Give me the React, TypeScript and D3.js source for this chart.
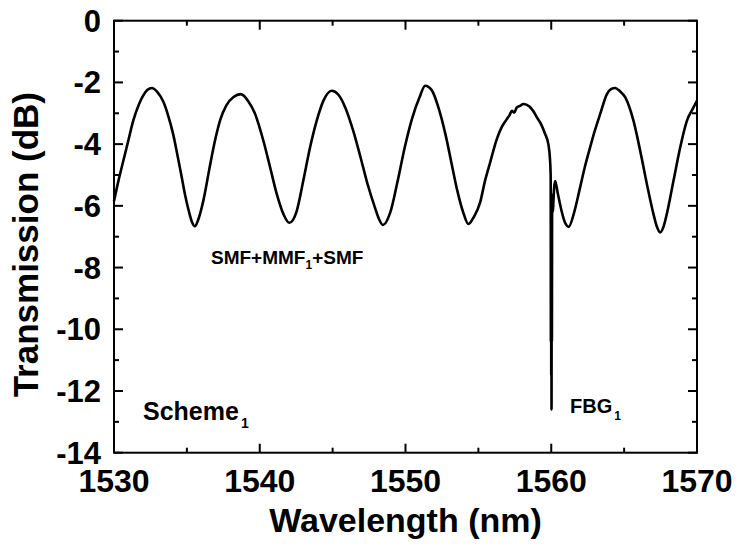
import React from "react";
import * as d3 from "d3";

const wavelength: number[] = [
  1530.0, 1530.3, 1530.64, 1531.0, 1531.32, 1531.7, 1532.01, 1532.3, 1532.6, 1532.95,
  1533.38, 1533.7, 1534.07, 1534.35, 1534.65, 1534.9, 1535.15, 1535.35, 1535.55, 1535.8,
  1536.13, 1536.54, 1536.9, 1537.3, 1537.7, 1538.2, 1538.7, 1539.2, 1539.68, 1540.25,
  1540.71, 1541.17, 1541.62, 1542.03, 1542.54, 1542.99, 1543.45, 1543.91, 1544.37, 1544.94,
  1545.4, 1545.9, 1546.4, 1546.9, 1547.4, 1547.9, 1548.2, 1548.45, 1548.95, 1549.45,
  1549.95, 1550.45, 1550.95, 1551.35, 1551.8, 1552.25, 1552.75, 1553.15, 1553.55, 1553.95,
  1554.32, 1554.7, 1555.12, 1555.45, 1555.81, 1556.27, 1556.6, 1556.95, 1557.15, 1557.3,
  1557.45, 1557.64, 1557.85, 1558.1, 1558.5, 1558.75, 1559.01, 1559.3, 1559.58, 1559.8,
  1559.9, 1559.96, 1559.975, 1559.99, 1560.0, 1560.01, 1560.02, 1560.03, 1560.045, 1560.06,
  1560.1, 1560.2, 1560.27, 1560.45,
  1560.7, 1560.95, 1561.2, 1561.55, 1561.98, 1562.3, 1562.67, 1563.0, 1563.36, 1563.82,
  1564.1, 1564.39, 1564.7, 1565.07, 1565.64, 1566.1, 1566.56, 1567.01, 1567.25, 1567.47,
  1567.7, 1567.93, 1568.39, 1568.85, 1569.31, 1569.76, 1570.0,
];

const transmission: number[] = [
  -5.85, -5.2, -4.54, -3.85, -3.24, -2.72, -2.42, -2.24, -2.18, -2.3,
  -2.62, -3.05, -3.7, -4.35, -5.08, -5.7, -6.2, -6.52, -6.66, -6.42,
  -5.83, -4.81, -3.95, -3.2, -2.75, -2.47, -2.38, -2.6, -3.02, -3.89,
  -4.75, -5.62, -6.26, -6.55, -6.16, -5.18, -4.11, -3.24, -2.59, -2.27,
  -2.4, -2.85, -3.55, -4.4, -5.3, -6.05, -6.45, -6.62, -6.22, -5.22,
  -4.1, -3.17, -2.5, -2.11, -2.25, -2.8, -3.7, -4.6, -5.5, -6.2,
  -6.59, -6.35, -5.89, -5.2, -4.59, -3.83, -3.45, -3.19, -3.05, -2.92,
  -2.98, -2.81, -2.76, -2.7, -2.78, -2.92, -3.13, -3.35, -3.67, -4.0,
  -4.4, -5.0, -10.4, -5.6, -11.5, -7.0, -12.6, -8.8, -10.4, -6.0,
  -6.2, -5.4, -5.2, -5.6,
  -6.15, -6.55, -6.68, -6.25, -5.4, -4.75, -4.1, -3.55, -3.02, -2.38,
  -2.22, -2.18, -2.28, -2.48, -3.24, -4.21, -5.29, -6.26, -6.68, -6.86,
  -6.68, -6.26, -5.18, -4.1, -3.24, -2.81, -2.59,
];

const xMajorTicks: number[] = [1530, 1540, 1550, 1560, 1570];
const xMinorTicks: number[] = [1535, 1545, 1555, 1565];
const yMajorTicks: number[] = [0, -2, -4, -6, -8, -10, -12, -14];
const yMinorTicks: number[] = [-1, -3, -5, -7, -9, -11, -13];

const xTitle = "Wavelength (nm)";
const yTitle = "Transmission (dB)";

const W = 740;
const H = 559;
const left = 114;
const right = 697;
const top = 20.7;
const bottom = 452.7;
const FONT = "'Liberation Sans', Arial, Helvetica, sans-serif";

export default function App() {
  const x = d3.scaleLinear().domain([1530, 1570]).range([left, right]);
  const y = d3.scaleLinear().domain([-14, 0]).range([bottom, top]);
  const pts: [number, number][] = wavelength.map((w, i) => [w, transmission[i]]);
  const line = d3
    .line<[number, number]>()
    .x((d) => x(d[0]))
    .y((d) => y(d[1]))
    .curve(d3.curveMonotoneX);

  const major = 9;
  const minor = 5;

  return (
    <svg
      width={W}
      height={H}
      style={{ position: "absolute", left: 0, top: 0, background: "#fff" }}
      fontFamily={FONT}
      fontWeight="bold"
    >
      <rect x={0} y={0} width={W} height={H} fill="#fff" />
      <path d={line(pts) || ""} fill="none" stroke="#000" strokeWidth={2.6} strokeLinejoin="round" />
      <rect x={left} y={top} width={right - left} height={bottom - top} fill="none" stroke="#000" strokeWidth={2} />
      {xMajorTicks.map((t) => (
        <g key={"xM" + t}>
          <line x1={x(t)} x2={x(t)} y1={bottom} y2={bottom - major} stroke="#000" strokeWidth={2} />
          <line x1={x(t)} x2={x(t)} y1={top} y2={top + major} stroke="#000" strokeWidth={2} />
          <text x={x(t)} y={492} textAnchor="middle" fontSize={32}>
            {t}
          </text>
        </g>
      ))}
      {xMinorTicks.map((t) => (
        <g key={"xm" + t}>
          <line x1={x(t)} x2={x(t)} y1={bottom} y2={bottom - minor} stroke="#000" strokeWidth={2} />
          <line x1={x(t)} x2={x(t)} y1={top} y2={top + minor} stroke="#000" strokeWidth={2} />
        </g>
      ))}
      {yMajorTicks.map((t) => (
        <g key={"yM" + t}>
          <line x1={left} x2={left + major} y1={y(t)} y2={y(t)} stroke="#000" strokeWidth={2} />
          <line x1={right} x2={right - major} y1={y(t)} y2={y(t)} stroke="#000" strokeWidth={2} />
          <text x={101} y={y(t) + 11} textAnchor="end" fontSize={31}>
            {t}
          </text>
        </g>
      ))}
      {yMinorTicks.map((t) => (
        <g key={"ym" + t}>
          <line x1={left} x2={left + minor} y1={y(t)} y2={y(t)} stroke="#000" strokeWidth={2} />
          <line x1={right} x2={right - minor} y1={y(t)} y2={y(t)} stroke="#000" strokeWidth={2} />
        </g>
      ))}
      <text x={(left + right) / 2} y={532} textAnchor="middle" fontSize={34}>
        {xTitle}
      </text>
      <text
        transform={`translate(38, ${(top + bottom) / 2 + 8}) rotate(-90)`}
        textAnchor="middle"
        fontSize={35}
      >
        {yTitle}
      </text>
      <text x={211} y={264} fontSize={19}>
        SMF+MMF
        <tspan fontSize={12} dy={5}>1</tspan>
        <tspan dy={-5}>+SMF</tspan>
      </text>
      <text x={143} y={420} fontSize={25}>
        Scheme
        <tspan fontSize={14} dy={8} dx={2}>1</tspan>
      </text>
      <text x={570} y={413} fontSize={20}>
        FBG
        <tspan fontSize={12} dy={7} dx={2}>1</tspan>
      </text>
    </svg>
  );
}
